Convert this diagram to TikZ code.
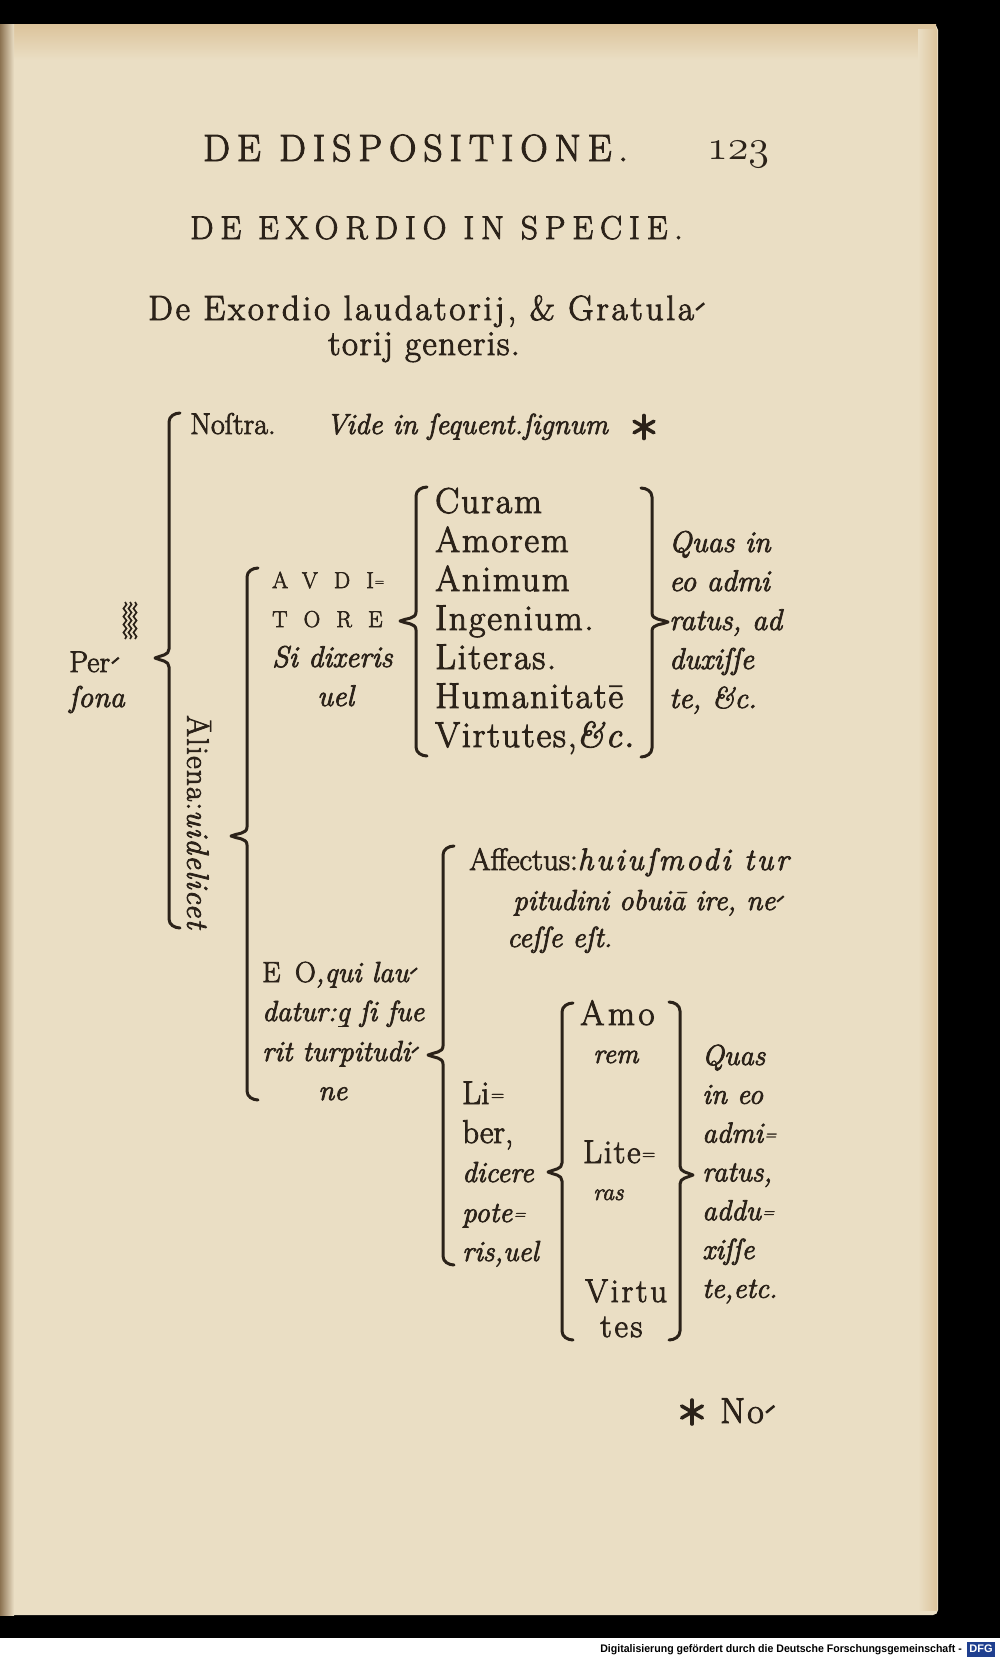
\documentclass[tikz,border=0pt]{standalone}
\usepackage{fontspec}
\setmainfont{Latin Modern Roman}[FakeBold=2.5]
\usetikzlibrary{calc,decorations.pathmorphing}
\newfontfamily\footfont{Liberation Sans}

\definecolor{ink}{HTML}{2B2219}
\definecolor{paper}{HTML}{EADEC4}
\definecolor{paperedge}{HTML}{DCC49C}
\definecolor{paperdark}{HTML}{8C7352}
\definecolor{dfgblue}{HTML}{1F3F8F}

% printed break marks
\newcommand{\slantbreak}{\kern.04em\raisebox{.6ex}{\rotatebox{40}{\rule{.3em}{.07em}}}}
\newcommand{\dblbreak}{\kern.05em\raisebox{.25ex}{\scalebox{.55}{=}}}
\newcommand{\qstroke}{\ooalign{q\cr\hidewidth\raisebox{-.5ex}{\rule{.34em}{.06em}}\hidewidth\cr}}
\newcommand{\osnum}[1]{{\usefont{OML}{lmm}{m}{it}#1}}

\tikzset{
  rom/.style={anchor=base west, inner sep=0pt, text=ink, font=\fontsize{#1}{#1}\selectfont},
  rom/.default=33,
  itl/.style={anchor=base west, inner sep=0pt, text=ink, font=\fontsize{#1}{#1}\selectfont\itshape},
  itl/.default=29,
  brline/.style={draw=ink, line width=3pt, line cap=round, line join=round},
}

% brace opening to the right: top, tip, bottom
\newcommand{\bracelft}[3]{%
  \draw[brline] ($(#1)+(11,0)$) to[out=180,in=90] ($(#1)+(0,9)$)
    -- ($(#1|-#2)+(0,-9)$) to[out=-90,in=25] (#2)
    to[out=-25,in=90] ($(#1|-#2)+(0,9)$)
    -- ($(#3)+(0,-9)$) to[out=-90,in=180] ($(#3)+(11,0)$);}
% brace closing to the left: top, tip, bottom
\newcommand{\bracergt}[3]{%
  \draw[brline] ($(#1)+(-11,0)$) to[out=0,in=90] ($(#1)+(0,9)$)
    -- ($(#1|-#2)+(0,-9)$) to[out=-90,in=155] (#2)
    to[out=-155,in=90] ($(#1|-#2)+(0,9)$)
    -- ($(#3)+(0,-9)$) to[out=-90,in=0] ($(#3)+(-11,0)$);}

\begin{document}
\begin{tikzpicture}[x=1pt,y=-1pt]
    % scan frame
    \fill[black] (0,0) rectangle (1000,1638);
    \fill[white] (0,1638) rectangle (1000,1659);
    \useasboundingbox (0,0) rectangle (1000,1659);
    % page
    \fill[paper, rounded corners=5pt] (0,25) rectangle (938,1615);
    \shade[top color=paperedge, bottom color=paper] (0,25) rectangle (936,60);
    \shade[left color=paperdark, right color=paper] (0,25) rectangle (14,1615);
    \shade[left color=paper, right color=paperedge] (918,30) rectangle (937,1610);

    % running head
    \node[rom, font=\fontsize{38}{38}\selectfont\addfontfeatures{LetterSpace=18}] (head) at (203,161) {DE DISPOSITIONE.};
    \node[rom, font=\fontsize{20}{20}\selectfont] (folio) at (707,160) {\resizebox{62pt}{!}{\osnum{123}}};
    \node[rom, font=\fontsize{33}{33}\selectfont\addfontfeatures{LetterSpace=21}] (title) at (190,239) {DE EXORDIO IN SPECIE.};
    \node[rom, font=\fontsize{35}{35}\selectfont\addfontfeatures{LetterSpace=8}] (sub1) at (148,320) {De Exordio laudatorij, \& Gratula\slantbreak};
    \node[rom, font=\fontsize{35}{35}\selectfont\addfontfeatures{LetterSpace=4}] (sub2) at (328,355) {torij generis.};

    % Persona
    \node[rom=30] (per1) at (69,672) {Per\slantbreak};
    \node[itl=30] (per2) at (69,707) {ſona};
    \coordinate (wave) at (125,602);
    \foreach \dx in {0,5,10}
        \draw[ink, line width=1.7pt, decorate, decoration={snake, amplitude=1.5pt, segment length=8pt}]
            ($(wave)+(\dx,0)$) -- ($(wave)+(\dx,37)$);
    \coordinate (perT) at (169,413);
    \coordinate (perM) at (155,658);
    \coordinate (perB) at (169,928);
    \bracelft{perT}{perM}{perB}

    % Nostra
    \node[rom=30] (nostra) at (190,434) {Noſtra.};
    \node[itl=29] (vide) at (326,434) {Vide in ſequent.ſignum};
    \coordinate (ast1) at (644,427);
    \foreach \a in {30,90,...,330}
        \draw[ink, line width=3.6pt, line cap=round] (ast1) -- ++(\a:11.5pt);

    % Aliena
    \node[rom, font=\fontsize{31}{31}\selectfont\addfontfeatures{LetterSpace=4}, anchor=center, rotate=-90] (aliena) at (199,822) {Āliena:\itshape uidelicet};
    \coordinate (aliT) at (247,568);
    \coordinate (aliM) at (231,836);
    \coordinate (aliB) at (247,1100);
    \bracelft{aliT}{aliM}{aliB}

    % Auditore
    \node[rom, font=\fontsize{23}{23}\selectfont\addfontfeatures{LetterSpace=70}] (aud1) at (272,588) {AVDI\dblbreak};
    \node[rom, font=\fontsize{23}{23}\selectfont\addfontfeatures{LetterSpace=70}] (aud2) at (272,627) {TORE};
    \node[itl=30] (aud3) at (272,667) {Si dixeris};
    \node[itl=30] (aud4) at (317,706) {uel};
    \coordinate (curT) at (416,487);
    \coordinate (curM) at (400,621);
    \coordinate (curB) at (416,756);
    \bracelft{curT}{curM}{curB}
    \foreach \w [count=\i] in {Curam, Amorem, Animum, Ingenium., Literas., Humanitatē, {Virtutes,\itshape\&c.}}
        \node[rom, font=\fontsize{36}{36}\selectfont\addfontfeatures{LetterSpace=5}] (cur\i) at (435,{513+39*(\i-1)}) {\w};
    \coordinate (quaT) at (652,488);
    \coordinate (quaM) at (668,622);
    \coordinate (quaB) at (652,757);
    \bracergt{quaT}{quaM}{quaB}
    \foreach \w [count=\i] in {Quas in, eo admi, {ratus, ad}, duxiſſe, {te, \&c.}}
        \node[itl=30] (qua\i) at (669,{552+39*(\i-1)}) {\w};

    % Eo, qui laudatur
    \node[itl=29] (eo1) at (262,982) {{\upshape\addfontfeatures{LetterSpace=20}E O},qui lau\slantbreak};
    \node[itl=29] (eo2) at (262,1021) {datur:\qstroke{} ſi fue};
    \node[itl=29] (eo3) at (262,1061) {rit turpitudi\slantbreak};
    \node[itl=29] (eo4) at (318,1100) {ne};
    \coordinate (affT) at (443,846);
    \coordinate (affM) at (428,1055);
    \coordinate (affB) at (443,1265);
    \bracelft{affT}{affM}{affB}
    \node[rom=31] (aff1) at (469,870) {Affectus:\itshape\addfontfeatures{LetterSpace=9}huiuſmodi tur};
    \node[itl=29] (aff2) at (513,910) {pitudini obuiā ire, ne\slantbreak};
    \node[itl=29] (aff3) at (507,947) {ceſſe eſt.};

    % Liber
    \node[rom=33] (lib1) at (462,1104) {Li\dblbreak};
    \node[rom=33] (lib2) at (462,1143) {ber,};
    \node[itl=29] (lib3) at (462,1182) {dicere};
    \node[itl=29] (lib4) at (462,1222) {pote\dblbreak};
    \node[itl=29] (lib5) at (462,1261) {ris,uel};
    \coordinate (amoT) at (562,1003);
    \coordinate (amoM) at (548,1172);
    \coordinate (amoB) at (562,1340);
    \bracelft{amoT}{amoM}{amoB}
    \node[rom, font=\fontsize{35}{35}\selectfont\addfontfeatures{LetterSpace=10}] (amo1) at (580,1025) {Amo};
    \node[itl=28] (amo2) at (593,1063) {rem};
    \node[rom, font=\fontsize{33}{33}\selectfont\addfontfeatures{LetterSpace=5}] (amo3) at (583,1163) {Lite\dblbreak};
    \node[itl=24] (amo4) at (593,1200) {ras};
    \node[rom, font=\fontsize{33}{33}\selectfont\addfontfeatures{LetterSpace=8}] (amo5) at (585,1302) {Virtu};
    \node[rom, font=\fontsize{33}{33}\selectfont\addfontfeatures{LetterSpace=8}] (amo6) at (600,1337) {tes};
    \coordinate (admT) at (680,1002);
    \coordinate (admM) at (693,1175);
    \coordinate (admB) at (680,1340);
    \bracergt{admT}{admM}{admB}
    \foreach \w [count=\i] in {Quas, in eo, admi\dblbreak, {ratus,}, addu\dblbreak, xiſſe, {te,etc.}}
        \node[itl=29] (adm\i) at (702,{1065+38.8*(\i-1)}) {\w};

    % catchword
    \coordinate (ast2) at (692,1412);
    \foreach \a in {30,90,...,330}
        \draw[ink, line width=3.6pt, line cap=round] (ast2) -- ++(\a:12pt);
    \node[rom, font=\fontsize{36}{36}\selectfont\addfontfeatures{LetterSpace=6}] (custos) at (720,1423) {No\slantbreak};

    % footer
    \node[anchor=base east, inner sep=0pt, font=\fontsize{11}{11}\selectfont\footfont\bfseries] (dfgtext) at (962,1652)
        {\scalebox{.96}[1]{Digitalisierung gefördert durch die Deutsche Forschungsgemeinschaft -}};
    \node[fill=dfgblue, text=white, inner sep=1.5pt, minimum width=28pt, minimum height=15pt,
          font=\fontsize{11}{11}\selectfont\footfont\bfseries] (dfg) at (981,1649) {DFG};
\end{tikzpicture}
\end{document}
